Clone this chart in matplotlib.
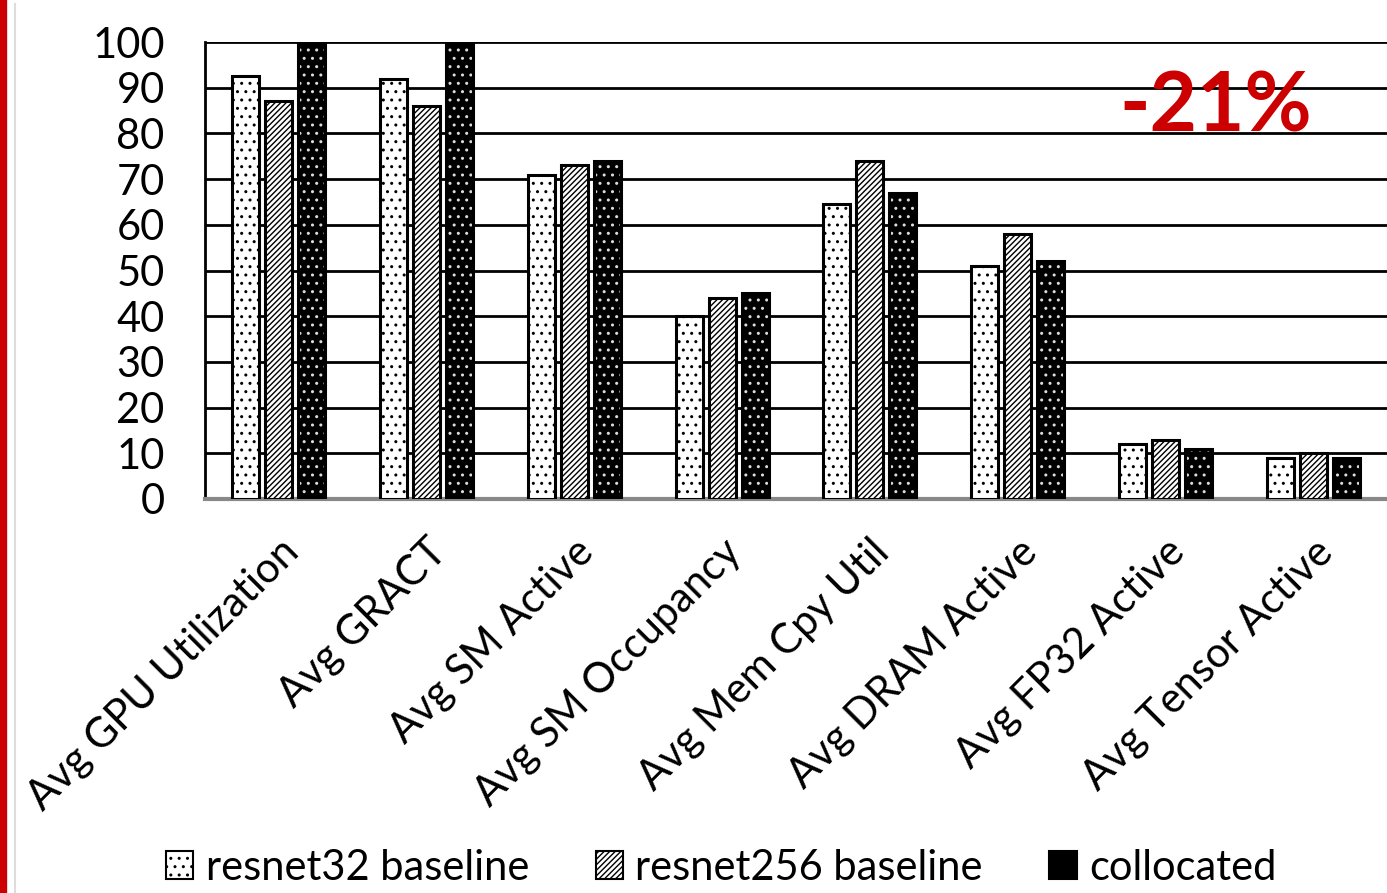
import numpy as np
import matplotlib.pyplot as plt
import matplotlib.lines as mlines

# Datos
categorias = ["Avg GPU Utilization", "Avg GRACT", "Avg SM Active", "Avg SM Occupancy",
              "Avg Mem Cpy Util", "Avg DRAM Active", "Avg FP32 Active", "Avg Tensor Active"]
resnet32 = [92.5, 92, 71, 40, 64.5, 51, 12, 9]
resnet256 = [87, 86, 73, 44, 74, 58, 13, 10]
collocated = [100, 100, 74, 45, 67, 52, 11, 9]
series = ["resnet32 baseline", "resnet256 baseline", "collocated"]

plt.rcParams["font.family"] = ["Lato", "DejaVu Sans"]
plt.rcParams["hatch.linewidth"] = 1.0

fig = plt.figure(figsize=(13.87, 8.93), dpi=100)
ax = fig.add_axes([205 / 1387, 1 - 499 / 893, 1182 / 1387, 457 / 893])

x = np.arange(len(categorias))
w = 0.183
d = 0.224

# resnet32: blanco con puntos
ax.bar(x - d, resnet32, w, color="white", edgecolor="black", hatch="..", linewidth=2.2, zorder=3)
# resnet256: rayado diagonal
ax.bar(x, resnet256, w, color="white", edgecolor="black", hatch="//////", linewidth=2.2, zorder=3)
# collocated: negro con puntos blancos
ax.bar(x + d, collocated, w, color="black", edgecolor="#dddddd", hatch="..", linewidth=0, zorder=3)
ax.bar(x + d, collocated, w, fill=False, edgecolor="black", linewidth=2.2, zorder=4)

ax.set_xlim(-0.5, len(categorias) - 0.5)
ax.set_ylim(0, 100)
ax.set_yticks(range(0, 101, 10))
ax.yaxis.grid(True, color="black", linewidth=2)
ax.set_axisbelow(True)
ax.tick_params(axis="both", length=0, labelsize=30)
ax.tick_params(axis="y", pad=29)
ax.set_xticks(x)
ax.set_xticklabels(categorias, rotation=45, ha="right", rotation_mode="anchor")
ax.tick_params(axis="x", pad=24)

for s in ["top", "right"]:
    ax.spines[s].set_visible(False)
ax.spines["left"].set_linewidth(2)
ax.spines["bottom"].set_linewidth(3)
ax.spines["bottom"].set_color("#888888")

ax.text(0.855, 0.855, "-21%", transform=ax.transAxes, color="#cc0000",
        fontsize=59, fontweight="bold", ha="center", va="center")

# leyenda
h1 = ax.bar([0], [0], 0, color="white", edgecolor="black", hatch="..", linewidth=1.5)
h2 = ax.bar([0], [0], 0, color="white", edgecolor="black", hatch="//////", linewidth=1.5)
h3 = ax.bar([0], [0], 0, color="black", edgecolor="black", linewidth=1.5)
fig.legend([h1, h2, h3], series, loc="center", bbox_to_anchor=(0.52, 0.028), ncol=3,
           frameon=False, fontsize=30, handlelength=0.65, handleheight=0.65,
           handletextpad=0.3, columnspacing=1.6)

# borde rojo izquierdo
fig.add_artist(mlines.Line2D([0.002, 0.002], [0, 1], color="#cc0000", linewidth=6))
fig.add_artist(mlines.Line2D([0.011, 0.011], [0, 0.995], color="#dddddd", linewidth=1.5))

plt.savefig("out.png", dpi=100)
